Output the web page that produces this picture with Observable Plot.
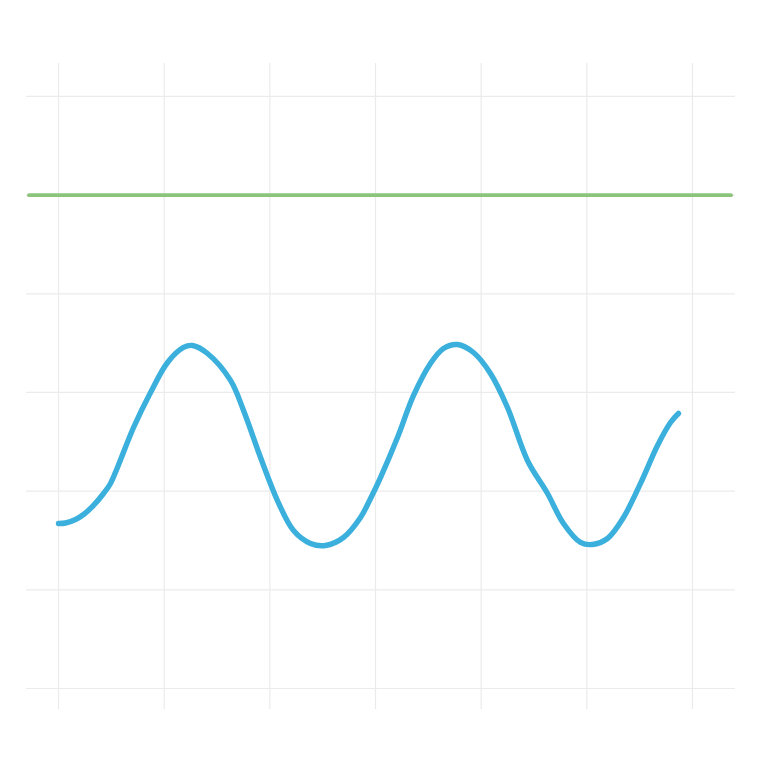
<!DOCTYPE html>
<html>
<head>
<meta charset="utf-8">
<script src="https://cdn.jsdelivr.net/npm/d3@7"></script>
<script src="https://cdn.jsdelivr.net/npm/@observablehq/plot@0.6"></script>
<style>
  html, body { margin: 0; padding: 0; background: #ffffff; }
  #chart svg { display: block; }
</style>
</head>
<body>
<div id="chart"></div>
<script>
// Series values (x, y in grid units)
const seriesX = [0, 0.066, 0.161, 0.237, 0.331, 0.426, 0.492, 0.558, 0.710, 0.871,
  1.032, 1.183, 1.268, 1.410, 1.628, 1.751, 1.912, 2.072, 2.224, 2.385,
  2.527, 2.697, 2.858, 2.953, 3.047, 3.208, 3.360, 3.520, 3.643, 3.776,
  3.927, 4.088, 4.249, 4.438, 4.628, 4.779, 4.940, 5.053, 5.195, 5.347,
  5.508, 5.669, 5.792, 5.867];
const seriesY = [1.672, 1.677, 1.713, 1.763, 1.855, 1.976, 2.078, 2.240, 2.645, 3.000,
  3.304, 3.456, 3.476, 3.395, 3.122, 2.817, 2.341, 1.905, 1.601, 1.470,
  1.449, 1.530, 1.733, 1.926, 2.138, 2.544, 2.970, 3.294, 3.446, 3.486,
  3.405, 3.193, 2.848, 2.311, 1.976, 1.672, 1.480, 1.459, 1.520, 1.733,
  2.078, 2.463, 2.696, 2.787];
const thresholdValue = [5];
const xTicks = [0, 1, 2, 3, 4, 5, 6];
const yTicks = [0, 1, 2, 3, 4, 5, 6];
const xDomain = [-0.303, 6.407];
const yDomain = [-0.213, 6.334];

const data = seriesX.map((x, i) => ({x, y: seriesY[i]}));

const chart = Plot.plot({
  width: 768,
  height: 768,
  marginLeft: 26,
  marginRight: 33,
  marginTop: 63,
  marginBottom: 59,
  x: {domain: xDomain, axis: null},
  y: {domain: yDomain, axis: null},
  style: {background: "#ffffff"},
  marks: [
    Plot.gridX(xTicks, {stroke: "#ebebeb", strokeOpacity: 1, strokeWidth: 1.2}),
    Plot.gridY(yTicks, {stroke: "#ebebeb", strokeOpacity: 1, strokeWidth: 1.2}),
    Plot.ruleY(thresholdValue, {stroke: "#8cc47c", strokeWidth: 3.8, strokeLinecap: "round", insetLeft: 3, insetRight: 4}),
    Plot.line(data, {x: "x", y: "y", stroke: "#3cb0dc", strokeWidth: 5.4, curve: "catmull-rom", strokeLinecap: "round", strokeLinejoin: "round"})
  ]
});
document.getElementById("chart").appendChild(chart);
</script>
</body>
</html>
